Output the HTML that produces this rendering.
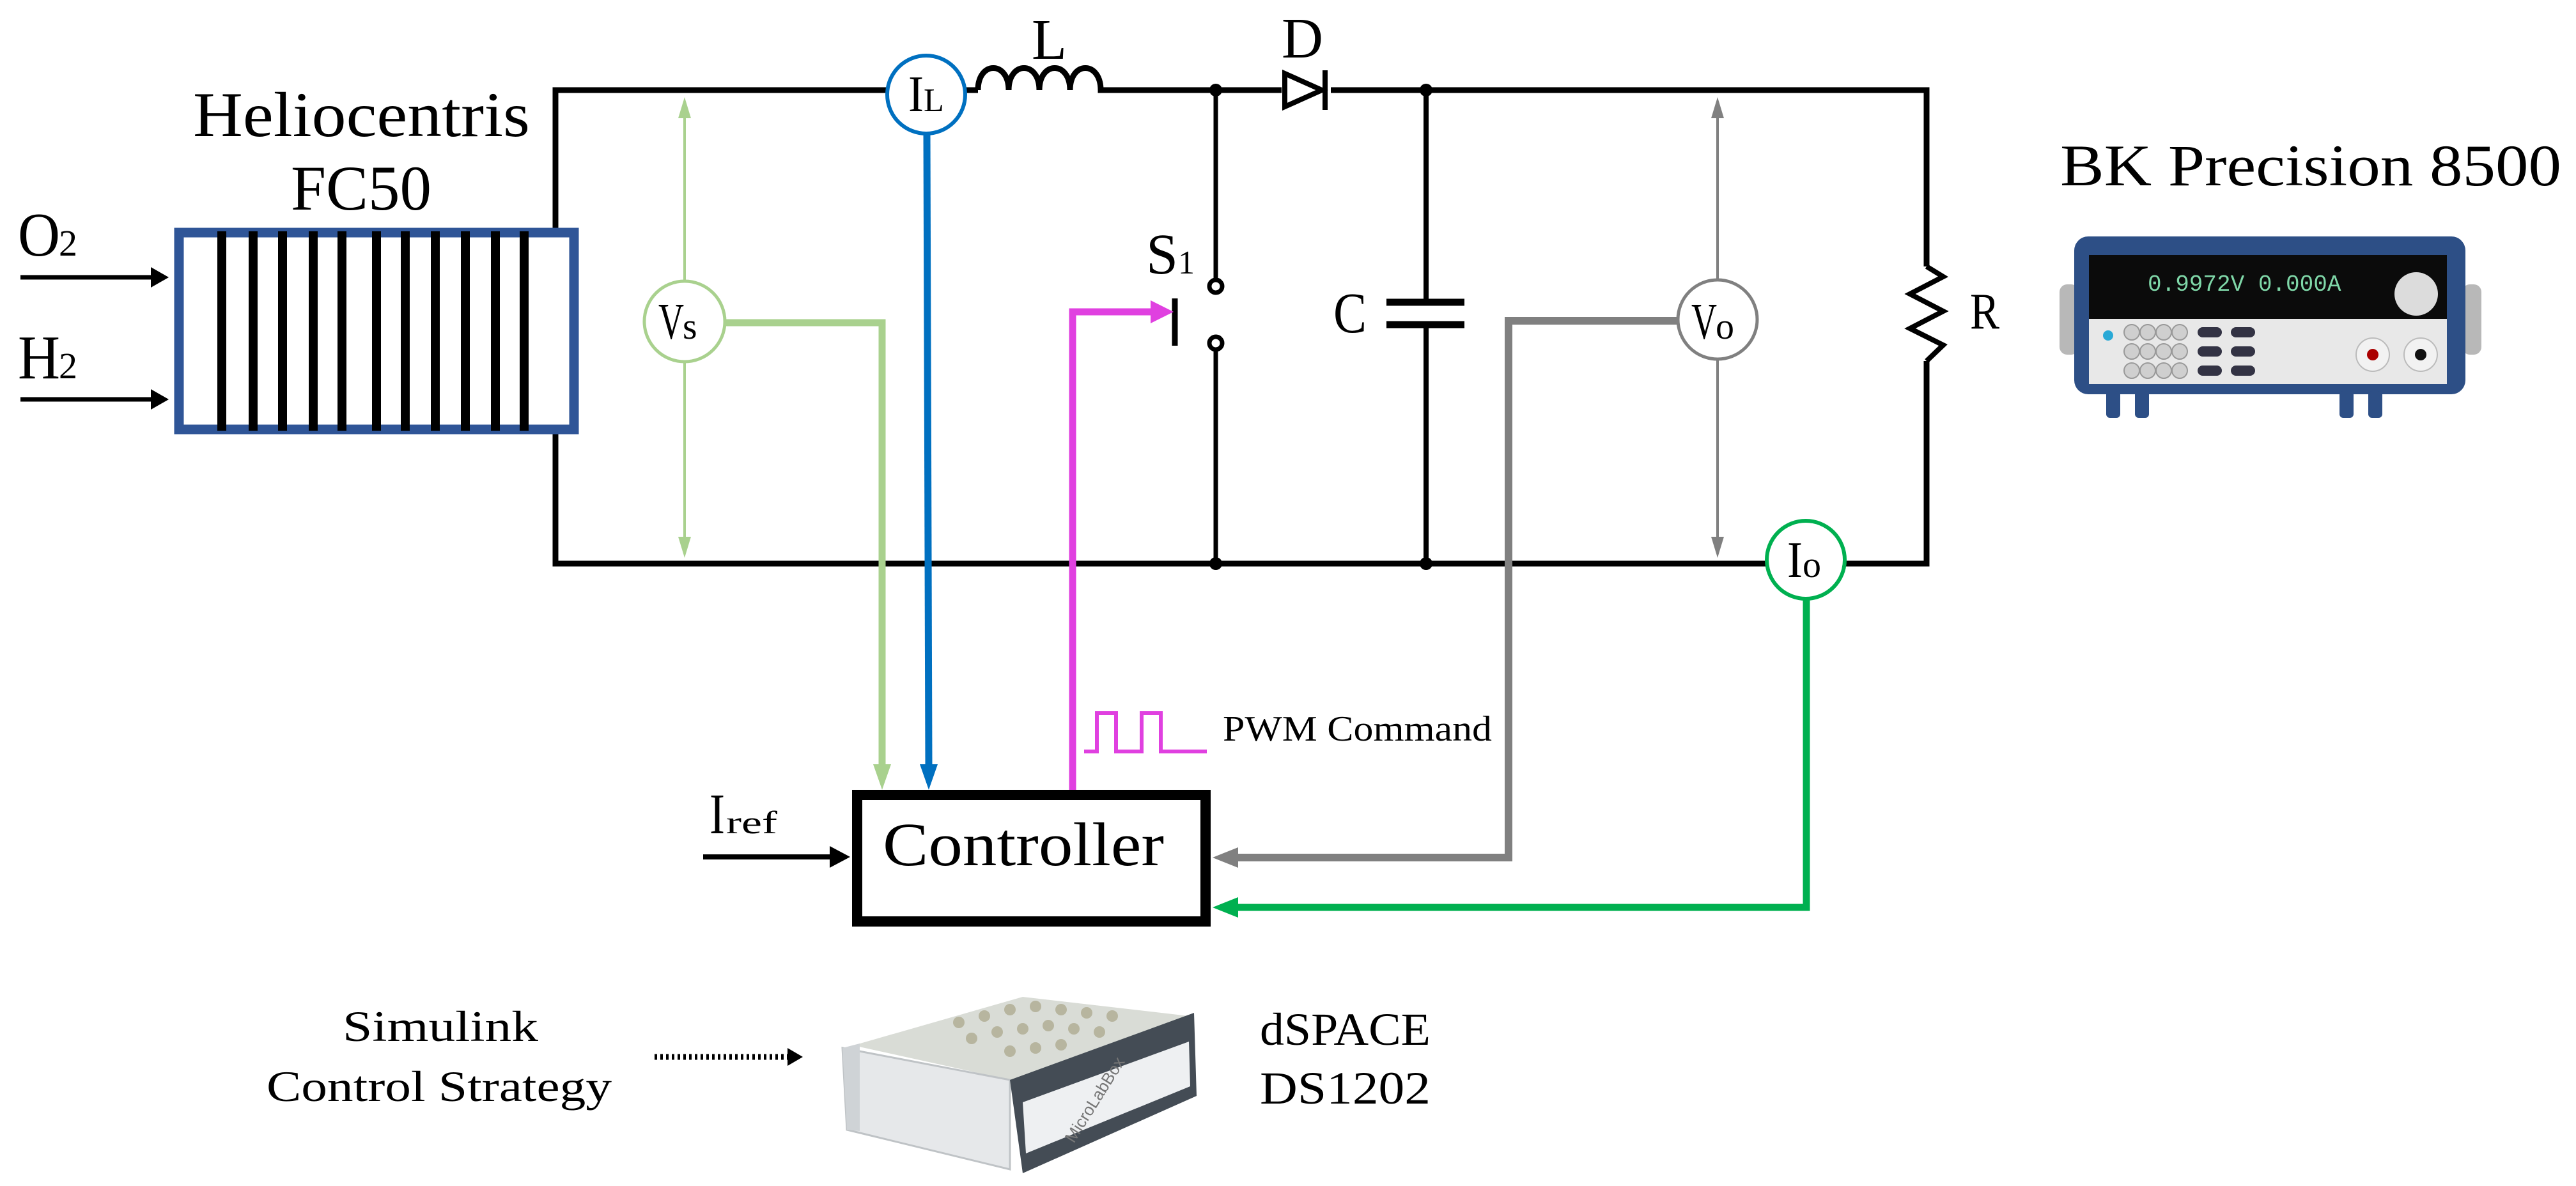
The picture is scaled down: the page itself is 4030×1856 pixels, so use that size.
<!DOCTYPE html>
<html><head><meta charset="utf-8"><style>html,body{margin:0;padding:0;background:#fff}svg{display:block}</style></head>
<body>
<svg width="4030" height="1856" viewBox="0 0 4030 1856" xmlns="http://www.w3.org/2000/svg" font-family="'Liberation Serif', serif">
<defs>
<marker id="ab" markerWidth="6" markerHeight="6" refX="5" refY="3" orient="auto" markerUnits="strokeWidth"><path d="M0,0 L6,3 L0,6 z" fill="#000"/></marker>
</defs>
<!-- main circuit wires -->
<g stroke="#000" stroke-width="9" fill="none">
<path d="M869,679 L869,882 L3014,882 L3014,565"/>
<path d="M3014,417 L3014,141 L2082,141"/>
<path d="M2005,141 L1729,141"/>
<path d="M1530,141 L1510,141"/>
<path d="M1388,141 L869,141 L869,357"/>
</g>
<!-- inductor -->
<path d="M1530,141 C1530,95 1578,95 1578,141 C1578,95 1626,95 1626,141 C1626,95 1674,95 1674,141 C1674,95 1722,95 1722,141 L1729,141" stroke="#000" stroke-width="9" fill="none"/>
<!-- diode -->
<polygon points="2010,115 2010,167 2068,141" fill="#fff" stroke="#000" stroke-width="8"/>
<line x1="2073" y1="110" x2="2073" y2="172" stroke="#000" stroke-width="8"/>
<!-- switch branch -->
<g stroke="#000" stroke-width="7" fill="none">
<line x1="1902" y1="141" x2="1902" y2="438"/>
<line x1="1902" y1="547" x2="1902" y2="882"/>
<circle cx="1902" cy="448" r="10" fill="#fff"/>
<circle cx="1902" cy="537" r="10" fill="#fff"/>
<line x1="1838" y1="467" x2="1838" y2="541" stroke-width="9"/>
</g>
<circle cx="1902" cy="141" r="10"/><circle cx="1902" cy="882" r="10"/>
<circle cx="2231" cy="141" r="10"/><circle cx="2231" cy="882" r="10"/>
<!-- capacitor -->
<g stroke="#000" stroke-width="8">
<line x1="2231" y1="141" x2="2231" y2="473"/>
<line x1="2231" y1="508" x2="2231" y2="882"/>
<line x1="2169" y1="473" x2="2291" y2="473" stroke-width="11"/>
<line x1="2169" y1="508" x2="2291" y2="508" stroke-width="11"/>
</g>
<!-- resistor -->
<path d="M3014,417 L3040,433 L2988,460 L3040,487 L2988,514 L3040,540 L3014,565" stroke="#000" stroke-width="8" fill="none"/>
<!-- fuel cell -->
<rect x="280" y="364" width="618" height="308" fill="#fff" stroke="#2f5597" stroke-width="15"/>
<g stroke="#000" stroke-width="14">
<line x1="347" y1="362" x2="347" y2="674"/><line x1="396" y1="362" x2="396" y2="674"/><line x1="442" y1="362" x2="442" y2="674"/><line x1="490" y1="362" x2="490" y2="674"/><line x1="535" y1="362" x2="535" y2="674"/><line x1="589" y1="362" x2="589" y2="674"/><line x1="634" y1="362" x2="634" y2="674"/><line x1="681" y1="362" x2="681" y2="674"/><line x1="728" y1="362" x2="728" y2="674"/><line x1="775" y1="362" x2="775" y2="674"/><line x1="820" y1="362" x2="820" y2="674"/>
</g>
<g stroke="#000" stroke-width="7"><line x1="32" y1="434" x2="245" y2="434"/><line x1="32" y1="625" x2="245" y2="625"/></g>
<polygon points="236,418 264,434 236,450" fill="#000"/><polygon points="236,609 264,625 236,641" fill="#000"/>
<!-- Vs measurement -->
<g stroke="#a9d18e" fill="#a9d18e">
<line x1="1071" y1="180" x2="1071" y2="439" stroke-width="4"/>
<line x1="1071" y1="567" x2="1071" y2="845" stroke-width="4"/>
<polygon points="1071,152 1061,185 1081,185" stroke="none"/>
<polygon points="1071,873 1061,840 1081,840" stroke="none"/>
<path d="M1135,505 L1380,505 L1380,1200" fill="none" stroke-width="11"/>
<polygon points="1380,1236 1366,1196 1394,1196" stroke="none"/>
</g>
<circle cx="1071" cy="503" r="63" fill="#fff" stroke="#a9d18e" stroke-width="5"/>
<!-- IL -->
<path d="M1450,210 L1453,1200" stroke="#0070c0" stroke-width="11" fill="none"/>
<polygon points="1453,1236 1439,1196 1467,1196" fill="#0070c0"/>
<circle cx="1449" cy="148" r="61" fill="#fff" stroke="#0070c0" stroke-width="6"/>
<!-- magenta PWM -->
<path d="M1678,1236 L1678,488 L1810,488" stroke="#e040e0" stroke-width="11" fill="none"/>
<polygon points="1836,488 1800,470 1800,506" fill="#e040e0"/>
<path d="M1696,1176 L1716,1176 L1716,1116 L1746,1116 L1746,1176 L1786,1176 L1786,1116 L1816,1116 L1816,1176 L1888,1176" stroke="#e040e0" stroke-width="6" fill="none"/>
<!-- Vo -->
<g stroke="#808080" fill="#808080">
<line x1="2687" y1="180" x2="2687" y2="437" stroke-width="4"/>
<line x1="2687" y1="563" x2="2687" y2="845" stroke-width="4"/>
<polygon points="2687,152 2677,185 2697,185" stroke="none"/>
<polygon points="2687,873 2677,840 2697,840" stroke="none"/>
<path d="M2625,502 L2360,502 L2360,1342 L1930,1342" fill="none" stroke-width="12"/>
<polygon points="1897,1342 1937,1326 1937,1358" stroke="none"/>
</g>
<circle cx="2687" cy="500" r="62" fill="#fff" stroke="#808080" stroke-width="5"/>
<!-- Io -->
<g stroke="#00b050" fill="#00b050">
<path d="M2826,938 L2826,1420 L1930,1420" fill="none" stroke-width="11"/>
<polygon points="1897,1420 1937,1404 1937,1436" stroke="none"/>
</g>
<circle cx="2825" cy="876" r="61" fill="#fff" stroke="#00b050" stroke-width="6"/>
<!-- controller -->
<rect x="1341" y="1244" width="545" height="198" fill="#fff" stroke="#000" stroke-width="16"/>
<line x1="1100" y1="1341" x2="1305" y2="1341" stroke="#000" stroke-width="8"/>
<polygon points="1330,1341 1298,1324 1298,1358" fill="#000"/>
<!-- dotted arrow -->
<line x1="1024" y1="1654" x2="1238" y2="1654" stroke="#000" stroke-width="9" stroke-dasharray="4,5"/>
<polygon points="1256,1654 1232,1640 1232,1668" fill="#000"/>
<!-- BK device -->
<g>
<rect x="3222" y="445" width="30" height="110" rx="12" fill="#b8b8b8"/>
<rect x="3852" y="445" width="30" height="110" rx="12" fill="#b8b8b8"/>
<rect x="3245" y="370" width="612" height="247" rx="22" fill="#2d4f86"/>
<rect x="3268" y="399" width="560" height="100" fill="#0b0b0b"/>
<text x="3360" y="455" fill="#7fd7a8" font-family="'Liberation Mono',monospace" font-size="36">0.9972V  0.000A</text>
<circle cx="3780" cy="460" r="34" fill="#dcdcdc"/>
<rect x="3268" y="499" width="560" height="102" fill="#e8e8e8"/>
<g fill="#cfcfcf" stroke="#999" stroke-width="2">
<circle cx="3335" cy="520" r="12"/><circle cx="3360" cy="520" r="12"/><circle cx="3385" cy="520" r="12"/><circle cx="3410" cy="520" r="12"/>
<circle cx="3335" cy="550" r="12"/><circle cx="3360" cy="550" r="12"/><circle cx="3385" cy="550" r="12"/><circle cx="3410" cy="550" r="12"/>
<circle cx="3335" cy="580" r="12"/><circle cx="3360" cy="580" r="12"/><circle cx="3385" cy="580" r="12"/><circle cx="3410" cy="580" r="12"/>
</g>
<g fill="#334"><rect x="3438" y="512" width="38" height="16" rx="8"/><rect x="3490" y="512" width="38" height="16" rx="8"/><rect x="3438" y="542" width="38" height="16" rx="8"/><rect x="3490" y="542" width="38" height="16" rx="8"/><rect x="3438" y="572" width="38" height="16" rx="8"/><rect x="3490" y="572" width="38" height="16" rx="8"/></g>
<circle cx="3298" cy="525" r="8" fill="#29a9d6"/>
<circle cx="3712" cy="555" r="26" fill="#f2f2f2" stroke="#bbb" stroke-width="2"/><circle cx="3712" cy="555" r="9" fill="#a00"/>
<circle cx="3787" cy="555" r="26" fill="#f2f2f2" stroke="#bbb" stroke-width="2"/><circle cx="3787" cy="555" r="9" fill="#111"/>
<g fill="#2d4f86"><rect x="3295" y="612" width="22" height="42" rx="6"/><rect x="3340" y="612" width="22" height="42" rx="6"/><rect x="3660" y="612" width="22" height="42" rx="6"/><rect x="3705" y="612" width="22" height="42" rx="6"/></g>
</g>
<!-- dSPACE device -->
<g>
<polygon points="1335,1636 1600,1560 1860,1590 1580,1690" fill="#d9dcd6"/>
<polygon points="1318,1640 1580,1690 1580,1830 1325,1768" fill="#e6e8ea" stroke="#bfc3c6" stroke-width="3"/>
<polygon points="1580,1690 1868,1585 1872,1715 1600,1836" fill="#444c55"/>
<polygon points="1600,1725 1860,1630 1862,1700 1605,1805" fill="#eef0f2"/>
<polygon points="1318,1640 1345,1633 1345,1770 1325,1768" fill="#cfd3d6"/>
<g fill="#b7b59f"><circle cx="1500" cy="1600" r="9"/><circle cx="1540" cy="1590" r="9"/><circle cx="1580" cy="1580" r="9"/><circle cx="1620" cy="1575" r="9"/><circle cx="1660" cy="1580" r="9"/><circle cx="1700" cy="1585" r="9"/><circle cx="1740" cy="1590" r="9"/><circle cx="1520" cy="1625" r="9"/><circle cx="1560" cy="1615" r="9"/><circle cx="1600" cy="1610" r="9"/><circle cx="1640" cy="1605" r="9"/><circle cx="1680" cy="1610" r="9"/><circle cx="1720" cy="1615" r="9"/><circle cx="1580" cy="1645" r="9"/><circle cx="1620" cy="1640" r="9"/><circle cx="1660" cy="1635" r="9"/></g>
<text x="1680" y="1790" font-family="'Liberation Sans',sans-serif" font-size="26" fill="#777" transform="rotate(-58 1680 1790)">MicroLabBox</text>
</g>
<!-- labels -->
<g fill="#000">
<text x="302" y="213" font-size="100" textLength="527" lengthAdjust="spacingAndGlyphs">Heliocentris</text>
<text x="455" y="328" font-size="100" textLength="220" lengthAdjust="spacingAndGlyphs">FC50</text>
<text x="28" y="400" font-size="98" textLength="66" lengthAdjust="spacingAndGlyphs">O</text>
<text x="92" y="400" font-size="58">2</text>
<text x="28" y="592" font-size="98" textLength="66" lengthAdjust="spacingAndGlyphs">H</text>
<text x="92" y="592" font-size="58">2</text>
<text x="1614" y="92" font-size="90">L</text>
<text x="2005" y="90" font-size="90">D</text>
<text x="1793" y="428" font-size="90">S</text>
<text x="1843" y="428" font-size="52">1</text>
<text x="2086" y="520" font-size="90" textLength="52" lengthAdjust="spacingAndGlyphs">C</text>
<text x="3082" y="514" font-size="80" textLength="46" lengthAdjust="spacingAndGlyphs">R</text>
<text x="1030" y="530" font-size="80" textLength="40" lengthAdjust="spacingAndGlyphs">V</text>
<text x="1068" y="530" font-size="58">s</text>
<text x="1421" y="174" font-size="80" textLength="24" lengthAdjust="spacingAndGlyphs">I</text>
<text x="1445" y="174" font-size="52">L</text>
<text x="2646" y="530" font-size="80" textLength="40" lengthAdjust="spacingAndGlyphs">V</text>
<text x="2684" y="530" font-size="58">o</text>
<text x="2796" y="903" font-size="80" textLength="24" lengthAdjust="spacingAndGlyphs">I</text>
<text x="2820" y="903" font-size="58">o</text>
<text x="3223" y="290" font-size="92" textLength="784" lengthAdjust="spacingAndGlyphs">BK Precision 8500</text>
<text x="1381" y="1354" font-size="96" textLength="440" lengthAdjust="spacingAndGlyphs">Controller</text>
<text x="1110" y="1304" font-size="90" textLength="24" lengthAdjust="spacingAndGlyphs">I</text>
<text x="1136" y="1304" font-size="50" textLength="80" lengthAdjust="spacingAndGlyphs">ref</text>
<text x="1913" y="1159" font-size="56" textLength="421" lengthAdjust="spacingAndGlyphs">PWM Command</text>
<text x="536" y="1629" font-size="68" textLength="306" lengthAdjust="spacingAndGlyphs">Simulink</text>
<text x="417" y="1723" font-size="68" textLength="540" lengthAdjust="spacingAndGlyphs">Control Strategy</text>
<text x="1971" y="1635" font-size="72" textLength="267" lengthAdjust="spacingAndGlyphs">dSPACE</text>
<text x="1971" y="1727" font-size="72" textLength="267" lengthAdjust="spacingAndGlyphs">DS1202</text>
</g>
</svg>
</body></html>
